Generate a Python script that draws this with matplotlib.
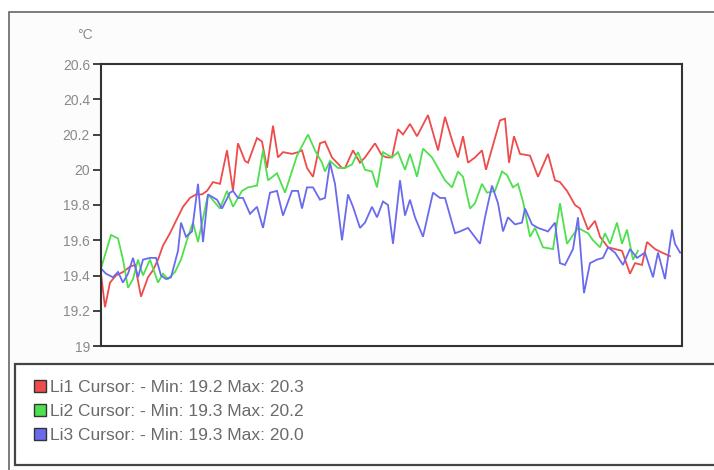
import matplotlib
matplotlib.use("Agg")
import matplotlib.pyplot as plt
from matplotlib.patches import Rectangle, Patch
from matplotlib.ticker import FuncFormatter

plt.rcParams['font.family'] = ['Liberation Sans', 'DejaVu Sans']

# sample times (s) and temperatures (degC) for the three sensors
t_li1 = [0, 4, 9, 15, 22, 29, 34, 40, 47, 52, 57, 62, 69, 75, 82, 89, 95, 101, 106, 112,
         119, 126, 132, 137, 144, 147, 156, 161, 166, 172, 177, 182, 191, 197, 201, 206, 212, 219, 224, 231,
         241, 244, 252, 259, 264, 274, 281, 286, 291, 297, 302, 309, 316, 327, 337, 344, 352, 357, 362, 367,
         374, 381, 385, 392, 399, 404, 408, 413, 419, 429, 437, 447, 454, 459, 466, 474, 479, 487, 494, 499,
         507, 521, 529, 534, 541, 546, 554, 561, 569]
li1 = [19.41, 19.22, 19.36, 19.40, 19.42, 19.45, 19.46, 19.28, 19.39, 19.43,
       19.49, 19.57, 19.64, 19.71, 19.79, 19.84, 19.86, 19.86, 19.88, 19.93,
       19.92, 20.11, 19.88, 20.15, 20.05, 20.04, 20.18, 20.16, 20.01, 20.25,
       20.07, 20.10, 20.09, 20.10, 20.11, 20.01, 19.96, 20.15, 20.16, 20.07,
       20.01, 20.01, 20.11, 20.04, 20.07, 20.15, 20.08, 20.07, 20.07, 20.23,
       20.20, 20.26, 20.19, 20.31, 20.11, 20.30, 20.15, 20.07, 20.19, 20.04,
       20.07, 20.11, 20.00, 20.14, 20.28, 20.29, 20.04, 20.19, 20.09, 20.08,
       19.96, 20.09, 19.94, 19.93, 19.88, 19.80, 19.78, 19.66, 19.71, 19.62,
       19.56, 19.54, 19.41, 19.47, 19.46, 19.59, 19.55, 19.53, 19.51]

t_li2 = [0, 10, 17, 22, 27, 32, 37, 42, 49, 57, 62, 67, 74, 80, 87, 92, 97, 107, 119, 126,
         132, 141, 147, 156, 162, 167, 176, 184, 196, 207, 214, 221, 224, 229, 237, 244, 251, 257, 264, 271,
         276, 282, 291, 297, 304, 309, 316, 322, 331, 339, 344, 351, 357, 362, 369, 374, 381, 386, 394, 401,
         406, 412, 417, 422, 429, 434, 442, 452, 459, 466, 477, 487, 492, 499, 504, 509, 516, 521, 526, 532,
         537]
li2 = [19.44, 19.63, 19.61, 19.49, 19.33, 19.38, 19.49, 19.40, 19.49, 19.36,
       19.41, 19.38, 19.42, 19.49, 19.62, 19.70, 19.59, 19.86, 19.78, 19.88,
       19.79, 19.88, 19.90, 19.91, 20.11, 19.94, 19.98, 19.87, 20.08, 20.20,
       20.11, 20.04, 19.99, 20.05, 20.01, 20.01, 20.03, 20.10, 20.00, 19.99,
       19.90, 20.10, 20.07, 20.10, 20.00, 20.09, 19.96, 20.12, 20.07, 19.99,
       19.94, 19.90, 19.99, 19.96, 19.78, 19.81, 19.92, 19.87, 19.88, 19.99,
       19.97, 19.90, 19.92, 19.82, 19.62, 19.67, 19.56, 19.55, 19.81, 19.58,
       19.67, 19.64, 19.60, 19.56, 19.64, 19.58, 19.70, 19.58, 19.66, 19.49,
       19.54]

t_li3 = [0, 5, 12, 17, 22, 27, 32, 37, 42, 49, 55, 60, 65, 70, 77, 80, 85, 91, 97, 102,
         107, 116, 121, 129, 132, 137, 142, 149, 156, 162, 169, 176, 182, 191, 197, 201, 206, 212, 219, 224,
         229, 234, 241, 247, 252, 259, 264, 271, 276, 282, 287, 292, 299, 304, 309, 314, 322, 332, 339, 344,
         354, 359, 367, 379, 384, 391, 397, 402, 407, 414, 421, 424, 431, 437, 447, 454, 459, 464, 472, 477,
         483, 489, 496, 502, 507, 514, 522, 529, 536, 544, 552, 557, 564, 571, 574, 579, 581]
li3 = [19.44, 19.41, 19.39, 19.42, 19.36, 19.41, 19.50, 19.39, 19.49, 19.50,
       19.50, 19.40, 19.38, 19.39, 19.54, 19.70, 19.62, 19.65, 19.92, 19.59,
       19.86, 19.83, 19.78, 19.87, 19.88, 19.84, 19.84, 19.75, 19.79, 19.67,
       19.87, 19.88, 19.74, 19.88, 19.88, 19.78, 19.90, 19.90, 19.83, 19.84,
       20.04, 19.92, 19.60, 19.86, 19.79, 19.67, 19.70, 19.79, 19.73, 19.82,
       19.80, 19.58, 19.94, 19.74, 19.83, 19.73, 19.62, 19.87, 19.84, 19.84,
       19.64, 19.65, 19.67, 19.58, 19.73, 19.91, 19.81, 19.65, 19.73, 19.69,
       19.70, 19.78, 19.69, 19.67, 19.65, 19.70, 19.47, 19.46, 19.55, 19.73,
       19.30, 19.47, 19.49, 19.50, 19.56, 19.53, 19.46, 19.55, 19.50, 19.53,
       19.39, 19.53, 19.38, 19.66, 19.58, 19.53, 19.53]

labels = ['Li1 Cursor: - Min: 19.2 Max: 20.3',
          'Li2 Cursor: - Min: 19.3 Max: 20.2',
          'Li3 Cursor: - Min: 19.3 Max: 20.0']
colors = ['#ee4b4b', '#4ee04e', '#6a6aee']
yticks = [19, 19.2, 19.4, 19.6, 19.8, 20, 20.2, 20.4, 20.6]

W, H = 714, 470


def fx(x):
    return x / W


def fy(y):
    return 1 - y / H


fig = plt.figure(figsize=(W / 100, H / 100), dpi=100)
fig.patch.set_facecolor('white')

# outer frame and legend frame
fig.add_artist(Rectangle((fx(9), fy(472)), fx(720) - fx(9), fy(12) - fy(472),
                         transform=fig.transFigure, facecolor='#fcfcfc',
                         edgecolor='#666666', lw=1.2, zorder=0))
fig.add_artist(Rectangle((fx(15), fy(465)), fx(720) - fx(15), fy(364) - fy(465),
                         transform=fig.transFigure, facecolor='white',
                         edgecolor='#444444', lw=1.6, zorder=1))

ax = fig.add_axes([fx(101), fy(346), fx(682) - fx(101), fy(64) - fy(346)])
ax.set_facecolor('white')

for t, v, c in zip([t_li1, t_li2, t_li3], [li1, li2, li3], colors):
    ax.plot(t, v, color=c, lw=1.3, solid_joinstyle='miter')

ax.set_xlim(0, 581)
ax.set_ylim(19, 20.6)
ax.set_yticks(yticks)
ax.yaxis.set_major_formatter(FuncFormatter(lambda v, p: '%g' % v))
ax.set_xticks([])
for s in ax.spines.values():
    s.set_color('#333333')
    s.set_linewidth(1.5)
ax.tick_params(axis='y', direction='out', length=6, width=1.3, color='#333333',
               labelcolor='#8a8a8a', labelsize=10, pad=2)

fig.text(fx(77), fy(35), '°C', color='#8a8a8a', fontsize=10, va='center', ha='left')

handles = [Patch(facecolor=c, edgecolor='#333333', lw=1.0) for c in colors]
fig.legend(handles, labels, loc='upper left', bbox_to_anchor=(fx(34), fy(380)),
           frameon=False, fontsize=12.5, handlelength=0.7, handleheight=0.7,
           handletextpad=0.25, labelspacing=0.5, borderpad=0, borderaxespad=0,
           labelcolor='#6a6a6a')

fig.savefig('out.png', dpi=100)
